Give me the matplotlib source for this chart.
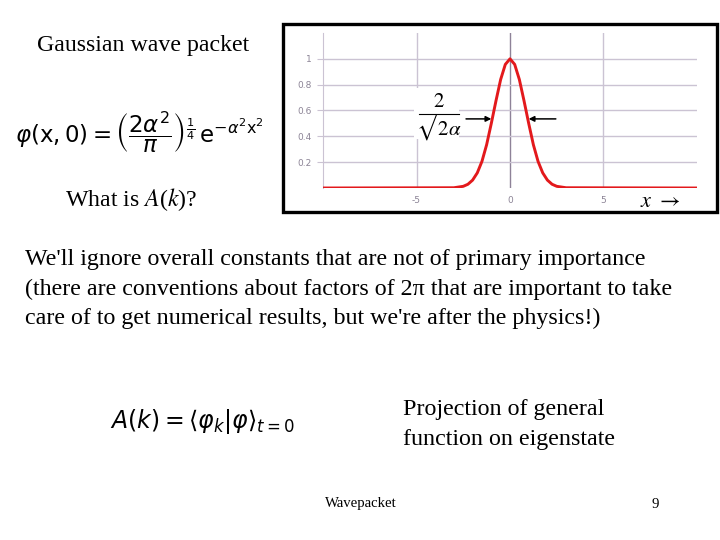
import matplotlib
matplotlib.use("Agg")
import matplotlib.pyplot as plt
from matplotlib.patches import Rectangle

# curve (psi vs x)
x_vals = [-10, -3.0, -2.5, -2.25, -2.0, -1.75, -1.5, -1.25, -1.0, -0.75, -0.5, -0.25, 0.0,
          0.25, 0.5, 0.75, 1.0, 1.25, 1.5, 1.75, 2.0, 2.25, 2.5, 3.0, 10]
y_vals = [0.0, 0.002, 0.013, 0.029, 0.061, 0.117, 0.206, 0.335, 0.50, 0.675, 0.84, 0.957, 1.0,
          0.957, 0.84, 0.675, 0.50, 0.335, 0.206, 0.117, 0.061, 0.029, 0.013, 0.002, 0.0]
x_ticks = [-5, 0, 5]
y_ticks = [0.2, 0.4, 0.6, 0.8, 1.0]
y_tick_labels = ["0.2", "0.4", "0.6", "0.8", "1"]

paragraph = ["We'll ignore overall constants that are not of primary importance",
             "(there are conventions about factors of 2\u03c0 that are important to take",
             "care of to get numerical results, but we're after the physics!)"]
projection = ["Projection of general", "function on eigenstate"]

W, H = 720, 540
fig = plt.figure(figsize=(7.2, 5.4), dpi=100)
fig.patch.set_facecolor("white")

def fx(px):
    return px / W

def fy(py):
    return 1 - py / H

serif = "Liberation Serif"
grid_c = "#cbc3d3"
lab_c = "#8c8496"

# embedded chart
ax = fig.add_axes([fx(323), fy(188), fx(697) - fx(323), (188 - 33) / H])
ax.set_xlim(-10, 10)
ax.set_ylim(0, 1.2)
for v in [-5, 5]:
    ax.axvline(v, color=grid_c, lw=1, zorder=1)
ax.axvline(0, color="#8e8298", lw=1, zorder=1)
for v in y_ticks:
    ax.axhline(v, color=grid_c, lw=1, zorder=1)
ax.plot(x_vals, y_vals, color="#e3191c", lw=2.1, zorder=3, solid_capstyle="butt")
for s in ["top", "right", "bottom"]:
    ax.spines[s].set_visible(False)
ax.spines["left"].set_color(grid_c)
ax.set_yticks(y_ticks)
ax.set_yticklabels(y_tick_labels)
ax.set_xticks(x_ticks)
ax.set_xticklabels(["-5", "0", "5"])
ax.tick_params(axis="y", direction="out", length=4, color=grid_c, labelcolor=lab_c,
               labelsize=6.5, pad=4)
ax.tick_params(axis="x", length=0, labelcolor=lab_c, labelsize=6.5, pad=6)
ax.patch.set_alpha(0)

# width annotation on a white patch
fig.add_artist(Rectangle((fx(414), fy(139)), fx(459) - fx(414), (139 - 88) / H,
                         facecolor="white", edgecolor="none", transform=fig.transFigure,
                         zorder=2))
fig.text(fx(439), fy(101), r"$2$", fontsize=15, ha="center", va="center",
         math_fontfamily="stix", zorder=3)
fig.text(fx(439), fy(127), r"$\sqrt{2}\!\alpha$", fontsize=15, ha="center", va="center",
         math_fontfamily="stix", zorder=3)
fig.add_artist(plt.Line2D([fx(419), fx(459)], [fy(114), fy(114)], color="black", lw=0.8,
                          zorder=3))
ax.annotate("", xy=(-0.85, 0.535), xytext=(-2.5, 0.535),
            arrowprops=dict(arrowstyle="-|>", color="black", lw=1.1, mutation_scale=8))
ax.annotate("", xy=(0.85, 0.535), xytext=(2.6, 0.535),
            arrowprops=dict(arrowstyle="-|>", color="black", lw=1.1, mutation_scale=8))
fig.text(fx(640), fy(201), r"$x\ \rightarrow$", fontsize=16, ha="left", va="center",
         math_fontfamily="stix")

# frame around chart
fig.add_artist(Rectangle((fx(283), fy(212)), fx(717) - fx(283), (212 - 24) / H,
                         fill=False, edgecolor="black", lw=2.4, transform=fig.transFigure))

# slide text
fig.text(fx(37), fy(45), "Gaussian wave packet", fontsize=17.2, family=serif, va="center")
fig.text(fx(15), fy(132),
         r"$\varphi(\mathrm{x},0) = \left(\dfrac{2\alpha^2}{\pi}\right)^{\frac{1}{4}}\,\mathrm{e}^{-\alpha^2 \mathrm{x}^2}$",
         fontsize=16.5, va="center", math_fontfamily="dejavusans")
fig.text(fx(65), fy(200), r"What is $A$($k$)?", fontsize=17.2, family=serif, va="center",
         math_fontfamily="stix")
for i, line in enumerate(paragraph):
    fig.text(fx(25), fy(260 + 29 * i), line, fontsize=17.3, family=serif, va="center")
fig.text(fx(110), fy(421), r"$A(k) = \langle \varphi_k | \varphi \rangle_{t=0}$",
         fontsize=17, va="center", math_fontfamily="dejavusans")
for i, line in enumerate(projection):
    fig.text(fx(403), fy(410 + 29 * i), line, fontsize=17.3, family=serif, va="center")
fig.text(fx(325), fy(504), "Wavepacket", fontsize=10.6, family=serif, va="center")
fig.text(fx(652), fy(504), "9", fontsize=10.6, family=serif, va="center")

fig.savefig("out.png", dpi=100)
